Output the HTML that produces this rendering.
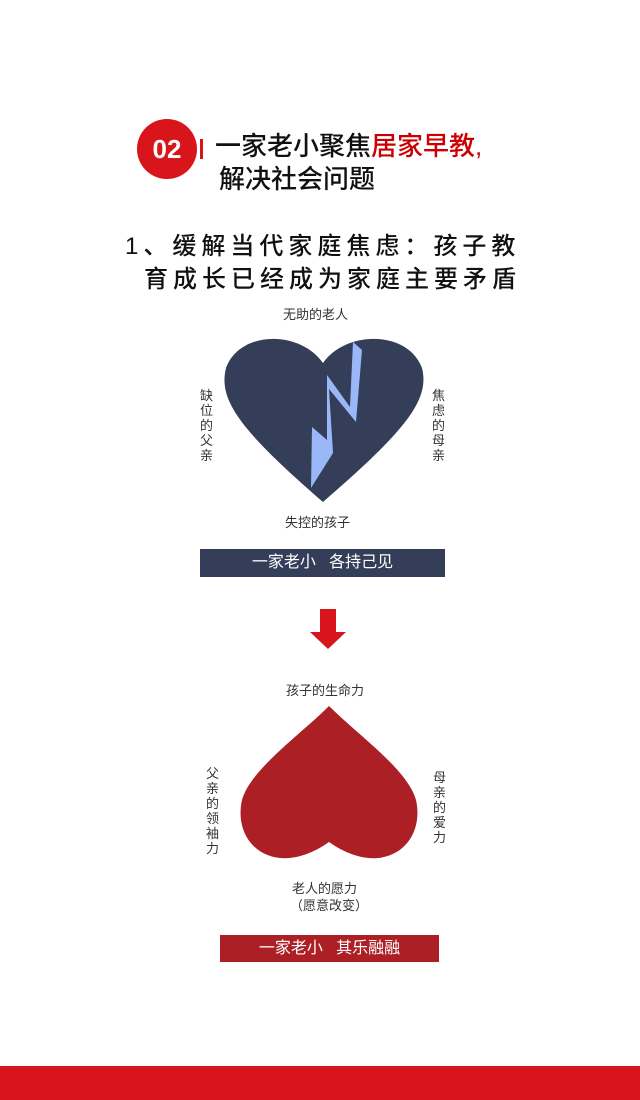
<!DOCTYPE html>
<html><head><meta charset="utf-8"><style>
body{margin:0;width:640px;height:1100px;background:#fff;position:relative;overflow:hidden;font-family:"Liberation Sans","Noto Sans CJK SC",sans-serif}
.a{position:absolute;white-space:nowrap}
</style></head><body>
<div class="a" style="left:137px;top:119px;width:60px;height:60px;border-radius:50%;background:#d7151a;color:#fff;font-size:26px;font-weight:bold;line-height:60px;text-align:center">02</div>
<div class="a" style="left:200px;top:139px;width:3px;height:20px;background:#d7151a"></div>
<div class="a" style="left:215px;top:130px;font-size:26px;line-height:32px;color:#111;font-weight:500">一家老小聚焦<span style="color:#c00">居家早教,</span></div>
<div class="a" style="left:219px;top:163px;font-size:26px;line-height:32px;color:#111;font-weight:500">解决社会问题</div>
<div class="a" style="left:125px;top:230px;font-size:24px;letter-spacing:5px;line-height:34px;color:#111;font-weight:500">1、缓解当代家庭焦虑：孩子教</div>
<div class="a" style="left:144px;top:263px;font-size:24px;letter-spacing:5px;line-height:34px;color:#111;font-weight:500">育成长已经成为家庭主要矛盾</div>
<svg class="a" style="left:0;top:0" width="640" height="1100">
<path d="M323,363 C300,330 240,330 226,368 C218,400 240,430 323,502 C406,430 430,400 422,368 C408,330 346,330 323,363Z" fill="#343e58"/>
<polygon points="353,342 362,350 356,422 329,389 333,453 311,488 312,427 327,440 327,375 350,407" fill="#9ab8f8"/>
<path d="M329,706 C300,735 250,770 242,800 C232,845 275,880 329,842 C383,880 426,845 416,800 C408,770 358,735 329,706Z" fill="#ac1f25"/>
<polygon points="320,609 336,609 336,632 346,632 328,649 310,632 320,632" fill="#d7151a"/>
</svg>
<div class="a" style="left:283px;top:304px;font-size:13px;color:#333">无助的老人</div>
<div class="a" style="left:200px;top:388px;width:14px;font-size:13px;line-height:15px;white-space:normal;color:#333">缺位的父亲</div>
<div class="a" style="left:432px;top:388px;width:14px;font-size:13px;line-height:15px;white-space:normal;color:#333">焦虑的母亲</div>
<div class="a" style="left:285px;top:512px;font-size:13px;color:#333">失控的孩子</div>
<div class="a" style="left:200px;top:549px;width:245px;height:28px;background:#343e58;color:#fff;font-size:16px;line-height:28px;text-align:center">一家老小&nbsp;&nbsp;&nbsp;各持己见</div>
<div class="a" style="left:286px;top:680px;font-size:13px;color:#333">孩子的生命力</div>
<div class="a" style="left:206px;top:766px;width:14px;font-size:13px;line-height:15px;white-space:normal;color:#333">父亲的领袖力</div>
<div class="a" style="left:433px;top:770px;width:14px;font-size:13px;line-height:15px;white-space:normal;color:#333">母亲的爱力</div>
<div class="a" style="left:292px;top:878px;font-size:13px;color:#333">老人的愿力</div>
<div class="a" style="left:290px;top:895px;font-size:13px;color:#333">（愿意改变）</div>
<div class="a" style="left:220px;top:935px;width:219px;height:27px;background:#ac1f25;color:#fff;font-size:16px;line-height:27px;text-align:center">一家老小&nbsp;&nbsp;&nbsp;其乐融融</div>
<div class="a" style="left:0;top:1066px;width:640px;height:34px;background:#d7151a"></div>
</body></html>
